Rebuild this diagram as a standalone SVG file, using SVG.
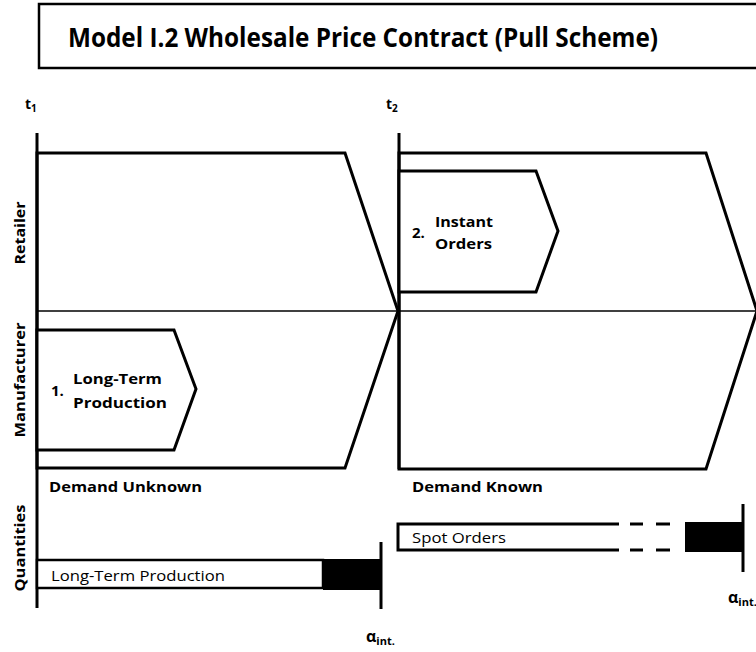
<svg xmlns="http://www.w3.org/2000/svg" width="756" height="652" viewBox="0 0 756 652">
<style>
  text { font-family: "Open Sans", "Liberation Sans", sans-serif; fill: #000; }
  .b { font-weight: bold; }
  .lbl { font-size: 15px; font-weight: bold; }
  .reg { font-size: 15px; }
  .shape { fill: #fff; stroke: #000; stroke-width: 3; stroke-linejoin: miter; }
  .ln { stroke: #000; stroke-width: 3; fill: none; }
  .thin { stroke: #000; stroke-width: 1.5; fill: none; }
  .blk { fill: #000; stroke: none; }
</style>
<rect width="756" height="652" fill="#fff"/>

<g id="title">
  <rect x="39" y="4" width="740" height="64" fill="#fff" stroke="#000" stroke-width="2.5"/>
  <text x="68" y="47" class="b" font-size="26" textLength="590" lengthAdjust="spacingAndGlyphs">Model I.2 Wholesale Price Contract (Pull Scheme)</text>
</g>

<g id="time-labels">
  <text x="25" y="109" class="b" font-size="14">t<tspan font-size="10" dy="3">1</tspan></text>
  <text x="386" y="109" class="b" font-size="14">t<tspan font-size="10" dy="3">2</tspan></text>
</g>

<g id="row-labels">
  <text transform="translate(25,233) rotate(-90)" text-anchor="middle" class="lbl" textLength="63" lengthAdjust="spacingAndGlyphs">Retailer</text>
  <text transform="translate(25,380) rotate(-90)" text-anchor="middle" class="lbl" textLength="115" lengthAdjust="spacingAndGlyphs">Manufacturer</text>
  <text transform="translate(25,548) rotate(-90)" text-anchor="middle" class="lbl" textLength="87" lengthAdjust="spacingAndGlyphs">Quantities</text>
</g>

<g id="phase1">
  <polygon class="shape" points="37,153 345,153 398,311 345,468 37,468"/>
</g>
<g id="phase2">
  <polygon class="shape" points="399,153 706,153 757,311 706,469 399,469"/>
</g>

<g id="connectors">
  <line class="ln" x1="37" y1="133" x2="37" y2="608"/>
  <line class="ln" x1="399" y1="133" x2="399" y2="469"/>
  <line class="thin" x1="37" y1="311" x2="756" y2="311"/>
</g>

<g id="long-term-production">
  <polygon class="shape" points="37,330 174,330 196,389 174,450 37,450"/>
  <text x="51" y="396" class="lbl">1.</text>
  <text x="73" y="384" class="lbl" textLength="89" lengthAdjust="spacingAndGlyphs">Long-Term</text>
  <text x="73" y="408" class="lbl" textLength="94" lengthAdjust="spacingAndGlyphs">Production</text>
</g>

<g id="instant-orders">
  <polygon class="shape" points="399,171 536,171 558,231 536,292 399,292"/>
  <text x="412" y="238" class="lbl">2.</text>
  <text x="435" y="227" class="lbl" textLength="58" lengthAdjust="spacingAndGlyphs">Instant</text>
  <text x="435" y="249" class="lbl" textLength="57" lengthAdjust="spacingAndGlyphs">Orders</text>
</g>

<g id="demand-labels">
  <text x="49" y="492" class="lbl" textLength="153" lengthAdjust="spacingAndGlyphs">Demand Unknown</text>
  <text x="412" y="492" class="lbl" textLength="131" lengthAdjust="spacingAndGlyphs">Demand Known</text>
</g>

<g id="qty-long-term">
  <rect x="37" y="560" width="286" height="28" fill="#fff" stroke="#000" stroke-width="2.5"/>
  <rect class="blk" x="323" y="559" width="58" height="31"/>
  <line class="ln" x1="381" y1="542" x2="381" y2="609"/>
  <text x="51" y="581" class="reg" textLength="174" lengthAdjust="spacingAndGlyphs">Long-Term Production</text>
  <text x="366" y="642" class="b" font-size="16">α<tspan font-size="11" dy="3">int.</tspan></text>
</g>

<g id="qty-spot-orders">
  <polyline class="ln" points="619,524 398,524 398,550 619,550" stroke-width="2.5"/>
  <line class="ln" x1="630" y1="524" x2="643" y2="524" stroke-width="2.5"/>
  <line class="ln" x1="656" y1="524" x2="670" y2="524" stroke-width="2.5"/>
  <line class="ln" x1="630" y1="550" x2="643" y2="550" stroke-width="2.5"/>
  <line class="ln" x1="656" y1="550" x2="670" y2="550" stroke-width="2.5"/>
  <rect class="blk" x="685" y="522" width="58" height="30"/>
  <line class="ln" x1="743" y1="504" x2="743" y2="572"/>
  <text x="412" y="543" class="reg" textLength="94" lengthAdjust="spacingAndGlyphs">Spot Orders</text>
  <text x="728" y="603" class="b" font-size="16">α<tspan font-size="11" dy="3">int.</tspan></text>
</g>
</svg>
